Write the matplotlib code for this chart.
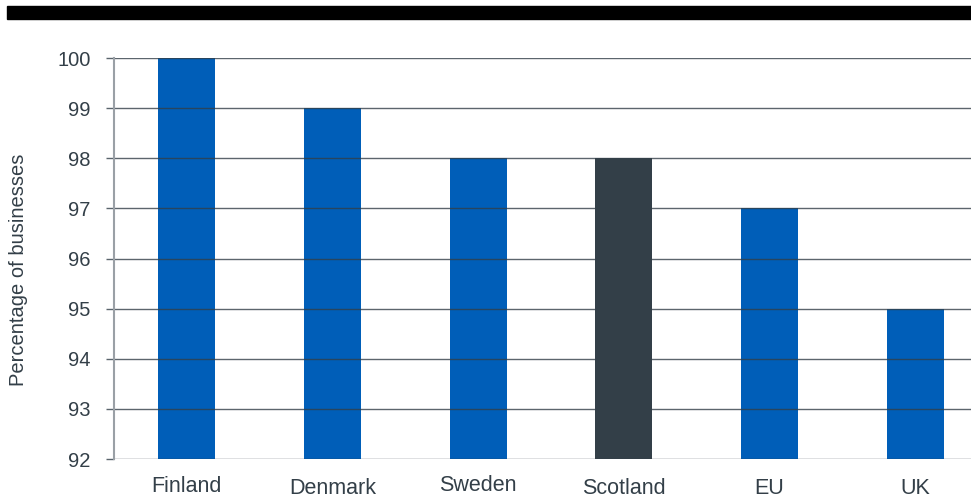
import matplotlib.pyplot as plt
from matplotlib.patches import Rectangle
from matplotlib import transforms

plt.rcParams['font.family'] = ['Liberation Sans', 'DejaVu Sans']

# data
countries = ['Finland', 'Denmark', 'Sweden', 'Scotland', 'EU', 'UK']
values = [100, 99, 98, 98, 97, 95]
y_ticks = [92, 93, 94, 95, 96, 97, 98, 99, 100]

blue = '#005EB8'
dark = '#333F48'
colors = [dark if c == 'Scotland' else blue for c in countries]

W, H = 971, 498
fig = plt.figure(figsize=(W / 100, H / 100), dpi=100)

# axes extends past right edge, like the original crop
left, right, bottom, top = 114, 988, 459, 58
ax = fig.add_axes([left / W, (H - bottom) / H, (right - left) / W, (bottom - top) / H])

x = range(len(countries))
ax.bar(x, values, width=0.39, color=colors, zorder=1)

ax.set_ylim(92, 100)
ax.set_xlim(-0.5, len(countries) - 0.5)
ax.set_yticks(y_ticks)
ax.set_yticklabels([str(v) for v in y_ticks], fontsize=14.5, color=dark)
ax.tick_params(axis='y', length=5.8, width=1, color='#5a646c', pad=11)
ax.set_xticks([])

for v in y_ticks:
    ax.axhline(v, color=dark, alpha=0.8, lw=1, zorder=2)

for s in ['top', 'right', 'bottom']:
    ax.spines[s].set_visible(False)
ax.spines['left'].set_color('#9aa0a6')
ax.spines['left'].set_linewidth(1.5)

# x labels, slightly staggered like the source
baselines = [492, 494, 491, 494, 494, 494]
trans = transforms.blended_transform_factory(ax.transData, fig.transFigure)
for i, (c, b) in enumerate(zip(countries, baselines)):
    ax.text(i, (H - b) / H, c, transform=trans, ha='center', va='baseline',
            fontsize=15.5, color=dark, clip_on=False)

fig.text(19 / W, (H - 270) / H, 'Percentage of businesses', rotation=90,
         ha='center', va='center', fontsize=14.5, color=dark)

# black band across the top
fig.add_artist(Rectangle((7 / W, (H - 19) / H), (W - 7) / W, 13 / H,
                         transform=fig.transFigure, color='black'))

fig.savefig('out.png', dpi=100)
